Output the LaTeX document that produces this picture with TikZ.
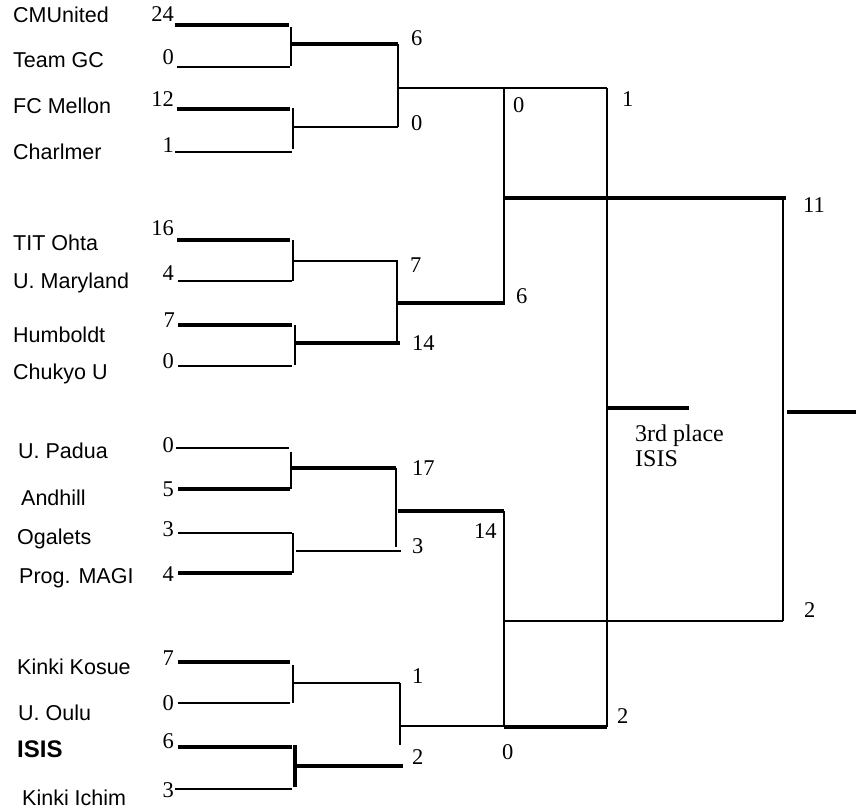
\documentclass[tikz,border=0pt]{standalone}
\usepackage{fontspec}
\setmainfont{Liberation Serif}
\newfontfamily\namefont{Liberation Sans}
\begin{document}
\begin{tikzpicture}[x=1pt,y=-1pt,
  tl/.style={line width=1.1pt},
  vl/.style={line width=2pt},
  tk/.style={line width=3.3pt},
  xk/.style={line width=4.5pt},
  tname/.style={font=\namefont\fontsize{21.5}{24}\selectfont, anchor=base west, inner sep=0pt},
  sl/.style={font=\fontsize{22.5}{24}\selectfont, anchor=base east, inner sep=0pt},
  sr/.style={font=\fontsize{22.5}{24}\selectfont, anchor=base west, inner sep=0pt},
  big/.style={font=\fontsize{24}{25}\selectfont, anchor=base west, inner sep=0pt}]
\useasboundingbox (0,0) rectangle (856,809);

% team names
\node[tname] (n1) at (13,22) {CMUnited};
\node[tname] (n2) at (13,67) {Team GC};
\node[tname] (n3) at (13,113) {FC Mellon};
\node[tname] (n4) at (13,159) {Charlmer};
\node[tname] (n5) at (13,250) {TIT Ohta};
\node[tname] (n6) at (13,288) {U. Maryland};
\node[tname] (n7) at (13,342) {Humboldt};
\node[tname] (n8) at (13,379) {Chukyo U};
\node[tname] (n9) at (18,458) {U. Padua};
\node[tname] (n10) at (21,505) {Andhill};
\node[tname] (n11) at (17,544) {Ogalets};
\node[tname] (n12) at (19,583) {Prog. MAGI};
\node[tname] (n13) at (17,674) {Kinki Kosue};
\node[tname] (n14) at (18,720) {U. Oulu};
\node[tname, font=\namefont\bfseries\fontsize{24}{26}\selectfont] (n15) at (17,757) {ISIS};
\node[tname] (n16) at (22,805) {Kinki Ichim};

% first-round scores
\node[sl] (s1) at (174,21) {24};
\node[sl] (s2) at (174,64) {0};
\node[sl] (s3) at (174,106) {12};
\node[sl] (s4) at (174,152) {1};
\node[sl] (s5) at (174,235) {16};
\node[sl] (s6) at (174,280) {4};
\node[sl] (s7) at (175,327) {7};
\node[sl] (s8) at (174,368) {0};
\node[sl] (s9) at (174,452) {0};
\node[sl] (s10) at (174,496) {5};
\node[sl] (s11) at (174,536) {3};
\node[sl] (s12) at (174,581) {4};
\node[sl] (s13) at (174,665) {7};
\node[sl] (s14) at (174,710) {0};
\node[sl] (s15) at (174,748) {6};
\node[sl] (s16) at (174,797) {3};

% second-round scores
\node[sr] (q1) at (411,45) {6};
\node[sr] (q2) at (411,130) {0};
\node[sr] (q3) at (410,272) {7};
\node[sr] (q4) at (412,350) {14};
\node[sr] (q5) at (412,475) {17};
\node[sr] (q6) at (412,553) {3};
\node[sr] (q7) at (412,683) {1};
\node[sr] (q8) at (412,764) {2};

% later scores
\node[sr] (r1) at (513,112) {0};
\node[sr] (r2) at (516,303) {6};
\node[sr] (r3) at (474,538) {14};
\node[sr] (r4) at (502,759) {0};
\node[sr] (r5) at (622,106) {1};
\node[sr] (r6) at (617,723) {2};
\node[sr] (f1) at (803,212) {11};
\node[sr] (f2) at (804,617) {2};
\node[big] (t1) at (635,441) {3rd place};
\node[big] (t2) at (635,466) {ISIS};

% group 1
\draw[tk] (175,25) -- (289,25);
\draw[tl] (177,67) -- (290,67);
\draw[vl] (291,27) -- (291,66);
\draw[tk] (291,44) -- (398,44);
\draw[tk] (177,109) -- (290,109);
\draw[tl] (175,152) -- (292,152);
\draw[vl] (293,108) -- (293,149);
\draw[tl] (293,127) -- (398,127);
\draw[vl] (398,44) -- (398,127);
\draw[tl] (398,88) -- (607,88);

% group 2
\draw[tk] (177,240) -- (290,240);
\draw[tl] (178,281) -- (292,281);
\draw[vl] (293,240) -- (293,281);
\draw[tl] (293,261) -- (398,261);
\draw[vl] (397,261) -- (397,343);
\draw[tk] (398,303) -- (505,303);
\draw[tk] (178,325) -- (292,325);
\draw[tl] (178,366) -- (292,366);
\draw[vl] (295,325) -- (295,365);
\draw[tk] (296,343) -- (400,343);

% upper semi / final
\draw[vl] (504,88) -- (504,303);
\draw[tk] (504,198) -- (786,198);
\draw[vl] (607,88) -- (607,727);

% group 3
\draw[tl] (176,448) -- (289,448);
\draw[tk] (178,489) -- (290,489);
\draw[vl] (291,452) -- (291,489);
\draw[tk] (291,468) -- (396,468);
\draw[vl] (396,468) -- (396,547);
\draw[tk] (398,511) -- (504,511);
\draw[tl] (178,533) -- (292,533);
\draw[tk] (178,573) -- (292,573);
\draw[vl] (293,533) -- (293,573);
\draw[tl] (296,551) -- (401,551);

% group 4
\draw[tk] (178,662) -- (290,662);
\draw[tl] (178,703) -- (290,703);
\draw[vl] (293,665) -- (293,703);
\draw[tl] (293,683) -- (400,683);
\draw[vl] (400,683) -- (400,745);
\draw[tl] (400,726) -- (504,726);
\draw[xk] (178,747) -- (292,747);
\draw[tl] (175,789) -- (292,789);
\draw[xk] (295,745) -- (295,787);
\draw[xk] (295,766) -- (403,766);

% lower semi / final
\draw[vl] (504,511) -- (504,727);
\draw[tk] (504,727) -- (607,727);
\draw[tl] (504,621) -- (783,621);
\draw[vl] (783,198) -- (783,621);
\draw[tk] (608,408) -- (689,408);
\draw[tk] (787,412) -- (856,412);
\end{tikzpicture}
\end{document}
